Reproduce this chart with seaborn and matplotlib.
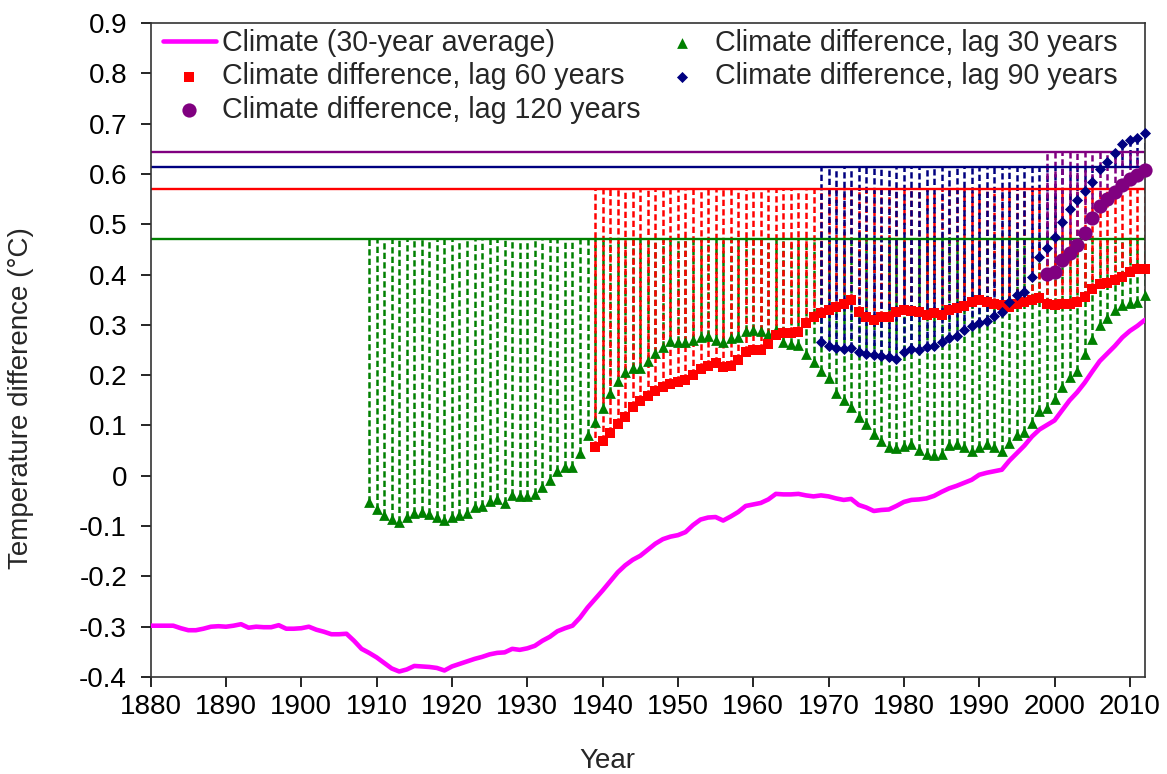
import matplotlib
matplotlib.use("Agg")
import matplotlib.pyplot as plt
import seaborn as sns
from matplotlib.ticker import FuncFormatter, MultipleLocator

# 30-year climate average, 1880-2012
climate_years = list(range(1880, 2013))
climate = [
    -0.298, -0.298, -0.298, -0.298, -0.303, -0.307, -0.307, -0.304, -0.300, -0.299,
    -0.300, -0.298, -0.295, -0.302, -0.300, -0.301, -0.301, -0.297, -0.304, -0.304,
    -0.303, -0.300, -0.306, -0.310, -0.315, -0.315, -0.314, -0.328, -0.344, -0.352,
    -0.361, -0.372, -0.383, -0.389, -0.385, -0.378, -0.379, -0.380, -0.382, -0.387,
    -0.379, -0.374, -0.369, -0.364, -0.360, -0.355, -0.352, -0.351, -0.344, -0.346,
    -0.343, -0.338, -0.328, -0.320, -0.309, -0.303, -0.298, -0.282, -0.262, -0.245,
    -0.228, -0.210, -0.192, -0.178, -0.167, -0.159, -0.147, -0.135, -0.126, -0.121,
    -0.118, -0.112, -0.098, -0.087, -0.083, -0.082, -0.089, -0.081, -0.072, -0.060,
    -0.057, -0.054, -0.047, -0.036, -0.037, -0.037, -0.036, -0.039, -0.041, -0.039,
    -0.041, -0.045, -0.048, -0.046, -0.058, -0.063, -0.070, -0.068, -0.067, -0.060,
    -0.052, -0.048, -0.047, -0.045, -0.040, -0.032, -0.025, -0.020, -0.014, -0.008,
    0.002, 0.006, 0.009, 0.012, 0.030, 0.045, 0.060, 0.078, 0.092, 0.101,
    0.110, 0.130, 0.150, 0.166, 0.185, 0.207, 0.228, 0.243, 0.258, 0.275,
    0.288, 0.298, 0.310,
]

# climate difference, lag 30 years (1909-2012)
lag30_years = list(range(1909, 2013))
lag30 = [
    -0.052, -0.067, -0.078, -0.085, -0.091, -0.081, -0.074, -0.072, -0.076, -0.081,
    -0.088, -0.081, -0.078, -0.074, -0.063, -0.061, -0.050, -0.047, -0.055, -0.038,
    -0.041, -0.041, -0.036, -0.022, -0.009, 0.010, 0.017, 0.018, 0.046, 0.082,
    0.107, 0.134, 0.165, 0.188, 0.207, 0.215, 0.215, 0.229, 0.245, 0.255,
    0.268, 0.265, 0.266, 0.270, 0.276, 0.277, 0.270, 0.265, 0.273, 0.275,
    0.288, 0.290, 0.287, 0.282, 0.290, 0.265, 0.262, 0.260, 0.243, 0.226,
    0.209, 0.194, 0.164, 0.151, 0.137, 0.117, 0.102, 0.084, 0.070, 0.058,
    0.055, 0.059, 0.064, 0.051, 0.043, 0.041, 0.043, 0.061, 0.064, 0.058,
    0.049, 0.058, 0.063, 0.058, 0.050, 0.066, 0.081, 0.087, 0.104, 0.129,
    0.134, 0.152, 0.176, 0.196, 0.209, 0.242, 0.271, 0.299, 0.314, 0.330,
    0.339, 0.343, 0.346, 0.360,
]

# climate difference, lag 60 years (1939-2012)
lag60_years = list(range(1939, 2013))
lag60 = [
    0.058, 0.070, 0.086, 0.103, 0.117, 0.136, 0.149, 0.158, 0.169, 0.177,
    0.182, 0.187, 0.191, 0.200, 0.213, 0.218, 0.225, 0.217, 0.218, 0.231,
    0.247, 0.250, 0.250, 0.262, 0.279, 0.283, 0.284, 0.286, 0.303, 0.316,
    0.323, 0.329, 0.336, 0.342, 0.349, 0.326, 0.316, 0.310, 0.316, 0.316,
    0.325, 0.329, 0.327, 0.325, 0.320, 0.323, 0.320, 0.329, 0.333, 0.338,
    0.346, 0.349, 0.345, 0.342, 0.339, 0.336, 0.342, 0.346, 0.349, 0.353,
    0.342, 0.339, 0.341, 0.342, 0.346, 0.356, 0.372, 0.382, 0.384, 0.389,
    0.396, 0.406, 0.411, 0.412,
]

# climate difference, lag 90 years (1969-2012)
lag90_years = list(range(1969, 2013))
lag90 = [
    0.265, 0.258, 0.253, 0.252, 0.254, 0.247, 0.243, 0.241, 0.239, 0.236,
    0.232, 0.247, 0.251, 0.250, 0.255, 0.258, 0.266, 0.273, 0.278, 0.290,
    0.297, 0.303, 0.308, 0.317, 0.325, 0.345, 0.360, 0.366, 0.395, 0.434,
    0.452, 0.474, 0.505, 0.531, 0.549, 0.566, 0.584, 0.609, 0.624, 0.641,
    0.659, 0.667, 0.671, 0.681,
]

# climate difference, lag 120 years (1999-2012)
lag120_years = list(range(1999, 2013))
lag120 = [
    0.401, 0.406, 0.429, 0.443, 0.459, 0.482, 0.512, 0.536, 0.551, 0.565,
    0.578, 0.589, 0.598, 0.608,
]

# reference levels for each lag
levels = {"30": 0.470, "60": 0.571, "90": 0.614, "120": 0.643}

sns.set_style("ticks")
plt.rcParams["font.family"] = ["Liberation Sans", "DejaVu Sans"]
plt.rcParams["axes.unicode_minus"] = False

fig = plt.figure(figsize=(11.67, 7.74), dpi=100)
ax = fig.add_axes([0.1291, 0.1253, 0.852, 0.845])

dash = (0, (2.5, 1.3))
series = [
    ("30", lag30_years, lag30, "#008000", "^", 60, "Climate difference, lag 30 years"),
    ("60", lag60_years, lag60, "#FF0000", "s", 60, "Climate difference, lag 60 years"),
    ("90", lag90_years, lag90, "#000080", "D", 32, "Climate difference, lag 90 years"),
    ("120", lag120_years, lag120, "#800080", "o", 105, "Climate difference, lag 120 years"),
]

# reference lines and dashed drop lines
for key, yrs, vals, col, mk, sz, lab in series:
    ax.axhline(levels[key], color=col, lw=1.7, zorder=2)
    ax.vlines(yrs, vals, levels[key], colors=col, linestyles=[dash], lw=1.8, zorder=1)

sns.lineplot(x=climate_years, y=climate, color="#FF00FF", lw=3.3, ax=ax,
             label="Climate (30-year average)", zorder=4)

for key, yrs, vals, col, mk, sz, lab in series:
    sns.scatterplot(x=yrs, y=vals, marker=mk, color=col, s=sz, linewidth=0,
                    ax=ax, label=lab, zorder=5, clip_on=False)

ax.set_xlim(1880, 2012)
ax.set_ylim(-0.4, 0.9)
ax.xaxis.set_major_locator(MultipleLocator(10))
ax.yaxis.set_major_locator(MultipleLocator(0.1))
ax.yaxis.set_major_formatter(FuncFormatter(lambda v, p: "0" if abs(v) < 1e-9 else f"{v:.1f}"))
ax.tick_params(axis="both", direction="out", length=7, width=1.2, labelsize=20, colors="black")
ax.tick_params(axis="y", pad=10)
ax.tick_params(axis="x", pad=5)
for sp in ax.spines.values():
    sp.set_visible(True)
    sp.set_linewidth(1.2)
    sp.set_color("#333333")

ax.set_xlabel("Year", fontsize=20)
ax.set_ylabel("Temperature difference (°C)", fontsize=20)
ax.xaxis.set_label_coords(0.459, -0.109)
ax.yaxis.set_label_coords(-0.117, 0.427)

handles, labels = ax.get_legend_handles_labels()
lookup = dict(zip(labels, handles))
order = ["Climate (30-year average)", "Climate difference, lag 60 years",
         "Climate difference, lag 120 years", "Climate difference, lag 30 years",
         "Climate difference, lag 90 years"]
ax.legend([lookup[o] for o in order], order, loc="upper left", bbox_to_anchor=(0.0124, 0.991),
          ncol=2, frameon=False, fontsize=20.6, handlelength=1.85, handletextpad=0.2,
          labelspacing=0.19, columnspacing=0.55, borderaxespad=0, borderpad=0)

fig.savefig("out.png", dpi=100)
